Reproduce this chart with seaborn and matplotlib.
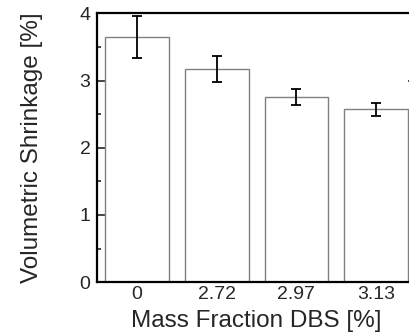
import numpy as np
import pandas as pd
import matplotlib
matplotlib.use("Agg")
import matplotlib.pyplot as plt
import seaborn as sns
from matplotlib.ticker import MultipleLocator

# Data
fractions = ["0", "2.72", "2.97", "3.13"]
shrinkage = [3.65, 3.17, 2.76, 2.57]
shrinkage_err = [0.31, 0.19, 0.12, 0.10]

sns.set_style("ticks")
plt.rcParams["font.family"] = ["Liberation Sans", "DejaVu Sans"]

df = pd.DataFrame({"fraction": fractions, "shrinkage": shrinkage})

fig = plt.figure(figsize=(4.09, 3.32), dpi=100)
# axes runs a little past the right edge, like the cropped original
ax = fig.add_axes([0.238, 0.150, 0.7785, 0.810])

sns.barplot(data=df, x="fraction", y="shrinkage", order=fractions,
            color="white", edgecolor="#808080", linewidth=1.0,
            width=0.8, errorbar=None, ax=ax)
ax.errorbar(np.arange(len(fractions)), shrinkage, yerr=shrinkage_err,
            fmt="none", ecolor="black", elinewidth=1.3, capsize=3.5,
            capthick=1.3, zorder=5)

ax.set_xlim(-0.5, 3.5)
ax.set_ylim(0, 4)
ax.yaxis.set_major_locator(MultipleLocator(1))
ax.yaxis.set_minor_locator(MultipleLocator(0.5))
ax.tick_params(axis="y", which="major", direction="in", length=6, width=1.2,
               right=True, labelsize=14, pad=5)
ax.tick_params(axis="y", which="minor", direction="in", length=3, width=1.2,
               right=True)
ax.tick_params(axis="x", length=0, labelsize=14, pad=3)

for side in ["left", "right", "top", "bottom"]:
    ax.spines[side].set_visible(True)
    ax.spines[side].set_linewidth(1.6)
    ax.spines[side].set_color("black")

ax.set_xlabel("Mass Fraction DBS [%]", fontsize=17.5, labelpad=5)
ax.set_ylabel("Volumetric Shrinkage [%]", fontsize=17.5, labelpad=26)

fig.savefig("out.png", dpi=100)
